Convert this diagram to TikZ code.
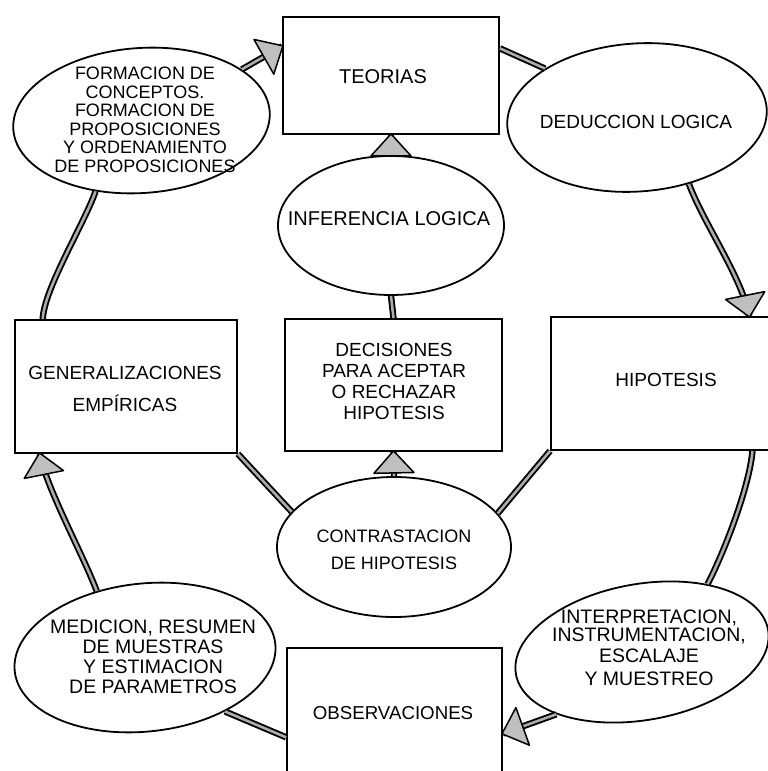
\documentclass[tikz,border=0pt]{standalone}
\usepackage{fontspec}
\setmainfont{Liberation Sans}
\usetikzlibrary{shapes.geometric,decorations.markings}
\begin{document}
\begin{tikzpicture}[x=1pt,y=-1pt,
  box/.style={draw=black, line width=1.8pt, rectangle, inner sep=0pt},
  oval/.style={draw=black, line width=1.8pt, ellipse, inner sep=0pt},
  txt/.style={align=center, inner sep=0pt, font=\fontsize{19}{19.5}\selectfont},
  band/.style={draw=black, line width=1.9pt, double=gray!65, double distance=2.6pt},
  headed/.style={postaction={decorate, decoration={markings,
     mark=at position 1 with {\draw[line width=1.5pt, line join=round, fill=gray!50]
       (1pt,0pt) -- (-21pt,20pt) -- (-21pt,-20pt) -- cycle;}}}},
]
\useasboundingbox (0,0) rectangle (768,771);
\clip (0,0) rectangle (768,771);

% frames of the cycle
\node[box, minimum width=216pt, minimum height=117pt] (teo) at (391,75.5) {};
\node[oval, minimum width=257pt, minimum height=145pt, rotate=4] (form) at (141.5,120.5) {};
\node[oval, minimum width=260pt, minimum height=148pt, rotate=4] (ded) at (637,117.5) {};
\node[oval, minimum width=226pt, minimum height=139pt] (inf) at (391,225.5) {};
\node[box, minimum width=222pt, minimum height=133pt] (gen) at (126,386.5) {};
\node[box, minimum width=217pt, minimum height=132pt] (dec) at (393.5,385) {};
\node[box, minimum width=224pt, minimum height=133pt] (hip) at (663,383.5) {};
\node[oval, minimum width=234pt, minimum height=140pt] (con) at (394,547) {};
\node[oval, minimum width=262pt, minimum height=148pt, rotate=6] (med) at (145,657.5) {};
\node[oval, minimum width=256pt, minimum height=136pt, rotate=10] (intp) at (642,652) {};
\node[box, minimum width=215pt, minimum height=152pt] (obs) at (394.5,724) {};

% texts
\node[txt, font=\fontsize{20}{20}\selectfont] (teot) at (383,77) {TEORIAS};
\node[txt, font=\fontsize{18}{18.5}\selectfont] (formt) at (145,120) {FORMACION DE\\CONCEPTOS.\\FORMACION DE\\PROPOSICIONES\\Y ORDENAMIENTO\\DE PROPOSICIONES};
\node[txt] (dedt) at (636,122) {DEDUCCION LOGICA};
\node[txt, font=\fontsize{20}{20}\selectfont] (inft) at (389,219) {INFERENCIA LOGICA};
\node[txt, font=\fontsize{19}{32}\selectfont] (gent) at (125,389) {GENERALIZACIONES\\EMPÍRICAS};
\node[txt, font=\fontsize{19}{21}\selectfont] (dect) at (394,381) {DECISIONES\\PARA ACEPTAR\\O RECHAZAR\\HIPOTESIS};
\node[txt] (hipt) at (666,380) {HIPOTESIS};
\node[txt, font=\fontsize{18}{27}\selectfont] (cont) at (394,550) {CONTRASTACION\\DE HIPOTESIS};
\node[txt, font=\fontsize{19.5}{20}\selectfont] (medt) at (153,657) {MEDICION, RESUMEN\\DE MUESTRAS\\Y ESTIMACION\\DE PARAMETROS};
\node[txt, font=\fontsize{19.5}{19}\selectfont] (intpt) at (649,648) {INTERPRETACION,\\[-0.5pt]INSTRUMENTACION,\\[1.5pt]ESCALAJE\\[4.5pt]Y MUESTREO};
\node[txt, font=\fontsize{18.7}{19}\selectfont] (obst) at (393,713) {OBSERVACIONES};

% outer cycle
\draw[band,headed] (form.23) -- (teo.165);
\draw[band] (teo.14.5) -- (ded.148.5);
\draw[band,headed] (ded.-56) .. controls +(15,40) and +(-8,-40) .. (hip.38);
\draw[band] (hip.-37.4) .. controls +(-3,35) and +(18,-35) .. (intp.36);
\draw[band,headed] (intp.206) -- (obs.-5.8);
\draw[band] (obs.187.5) -- (med.-40);
\draw[band,headed] (med.120) .. controls +(-13,-35) and +(7,35) .. (gen.218.4);
\draw[band] (gen.141.3) .. controls +(1,-30) and +(-10,30) .. (form.233);

% inner branch
\draw[band] (hip.south west) -- (con.18);
\draw[band] (gen.south east) -- (con.161);
\draw[band,headed] (con.north) -- (dec.south);
\draw[band] (dec.north) -- (inf.south);
\draw[band,headed] (inf.north) -- (teo.south);
\end{tikzpicture}
\end{document}
